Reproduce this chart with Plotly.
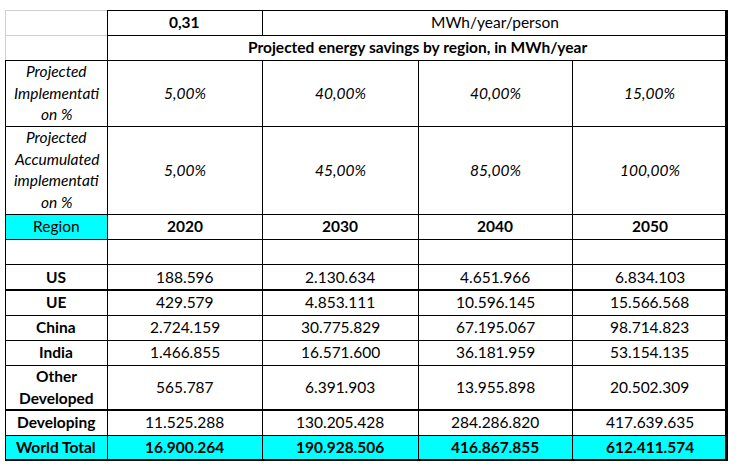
import plotly.graph_objects as go

# ---------------- data ----------------
per_person = "0,31"
per_person_unit = "MWh/year/person"
table_title = "Projected energy savings by region, in MWh/year"
impl_label = "Projected<br>Implementati<br>on %"
accum_label = "Projected<br>Accumulated<br>implementati<br>on %"
years = ["2020", "2030", "2040", "2050"]
implementation = ["5,00%", "40,00%", "40,00%", "15,00%"]
accumulated = ["5,00%", "45,00%", "85,00%", "100,00%"]
regions = ["US", "UE", "China", "India", "Other<br>Developed", "Developing"]
us = [188596, 2130634, 4651966, 6834103]
ue = [429579, 4853111, 10596145, 15566568]
china = [2724159, 30775829, 67195067, 98714823]
india = [1466855, 16571600, 36181959, 53154135]
other_developed = [565787, 6391903, 13955898, 20502309]
developing = [11525288, 130205428, 284286820, 417639635]
world_total = [16900264, 190928506, 416867855, 612411574]
total_label = "World Total"

# ---------------- style / geometry ----------------
W, H = 736, 471
col_edges = [5, 107, 262, 418, 572, 727]
row_edges = [10, 35, 60, 126, 214, 239, 264, 290, 315, 340, 365, 410, 435, 460]
FONT = "Lato, 'Open Sans', sans-serif"
FS = 15.5
LINE_H = 21.5
CYAN = "#00FFFF"
GRAY = "#D0D0D0"
BLACK = "#000000"


def fmt(v):
    return f"{v:,}".replace(",", ".")


def cx(c0, c1=None):
    c1 = c0 if c1 is None else c1
    return (col_edges[c0] + col_edges[c1 + 1]) / 2


def cy(r):
    return (row_edges[r] + row_edges[r + 1]) / 2


shapes = []
annotations = []


def rect(x0, y0, x1, y1, color):
    shapes.append(dict(type="rect", xref="x", yref="y", x0=x0, x1=x1, y0=y0, y1=y1,
                       fillcolor=color, line=dict(width=0), layer="below"))


def hline(y, x0, x1, color=BLACK, w=1):
    off = 0.5 if w % 2 == 1 else 0
    shapes.append(dict(type="line", xref="x", yref="y", x0=x0, x1=x1, y0=y + off, y1=y + off,
                       line=dict(color=color, width=w)))


def vline(x, y0, y1, color=BLACK, w=1):
    off = 0.5 if w % 2 == 1 else 0
    shapes.append(dict(type="line", xref="x", yref="y", x0=x + off, x1=x + off, y0=y0, y1=y1,
                       line=dict(color=color, width=w)))


def text(x, y, s, bold=False, italic=False):
    lines = s.split("<br>")
    n = len(lines)
    for k, line in enumerate(lines):
        t = line
        if bold:
            t = f"<b>{t}</b>"
        if italic:
            t = f"<i>{t}</i>"
        yy = y + (k - (n - 1) / 2) * LINE_H - 0.5
        annotations.append(dict(x=x, y=yy, xref="x", yref="y", text=t, showarrow=False,
                                xanchor="center", yanchor="middle",
                                font=dict(family=FONT, size=FS, color=BLACK)))


# fills
rect(col_edges[0], row_edges[4], col_edges[1], row_edges[5], CYAN)
rect(col_edges[0], row_edges[12], col_edges[5], row_edges[13], CYAN)

# horizontal lines
thick_rows = {7: 2, 11: 2}
for i, y in enumerate(row_edges):
    if i in (0, 1):
        hline(y, col_edges[0], col_edges[1], GRAY)
        hline(y, col_edges[1], col_edges[5] + 1)
    else:
        w = thick_rows.get(i, 1)
        if i == len(row_edges) - 1:
            w = 2
        hline(y, col_edges[0], col_edges[5] + 1, BLACK, w)

# vertical lines
vline(col_edges[0], row_edges[0], row_edges[2], GRAY)
vline(col_edges[0], row_edges[2], row_edges[-1] + 1)
vline(col_edges[1], row_edges[0], row_edges[-1] + 1)
vline(col_edges[2], row_edges[0], row_edges[1])
for c in (2, 3, 4):
    vline(col_edges[c], row_edges[2], row_edges[-1] + 1)
vline(col_edges[5] - 1, row_edges[0], row_edges[-1] + 1, BLACK, 3)

# texts
text(cx(1), cy(0), per_person, bold=True)
text(cx(2, 4), cy(0), per_person_unit)
text(cx(1, 4), cy(1), table_title, bold=True)
text(cx(0), cy(2), impl_label, italic=True)
text(cx(0), cy(3), accum_label, italic=True)
text(cx(0), cy(4), "Region")
for j in range(4):
    text(cx(j + 1), cy(2), implementation[j], italic=True)
    text(cx(j + 1), cy(3), accumulated[j], italic=True)
    text(cx(j + 1), cy(4), years[j], bold=True)

series = [us, ue, china, india, other_developed, developing]
for i, (name, vals) in enumerate(zip(regions, series)):
    r = 6 + i
    text(cx(0), cy(r), name, bold=True)
    for j, v in enumerate(vals):
        text(cx(j + 1), cy(r), fmt(v))
text(cx(0), cy(12), total_label, bold=True)
for j, v in enumerate(world_total):
    text(cx(j + 1), cy(12), fmt(v), bold=True)

fig = go.Figure()
fig.update_layout(
    width=W, height=H,
    margin=dict(l=0, r=0, t=0, b=0),
    paper_bgcolor="white", plot_bgcolor="white",
    xaxis=dict(range=[0, W], visible=False, fixedrange=True),
    yaxis=dict(range=[H, 0], visible=False, fixedrange=True),
    shapes=shapes, annotations=annotations,
    showlegend=False,
)
fig.write_html("out.html", config={"displayModeBar": False},
               post_script="document.body.style.margin='0';")
